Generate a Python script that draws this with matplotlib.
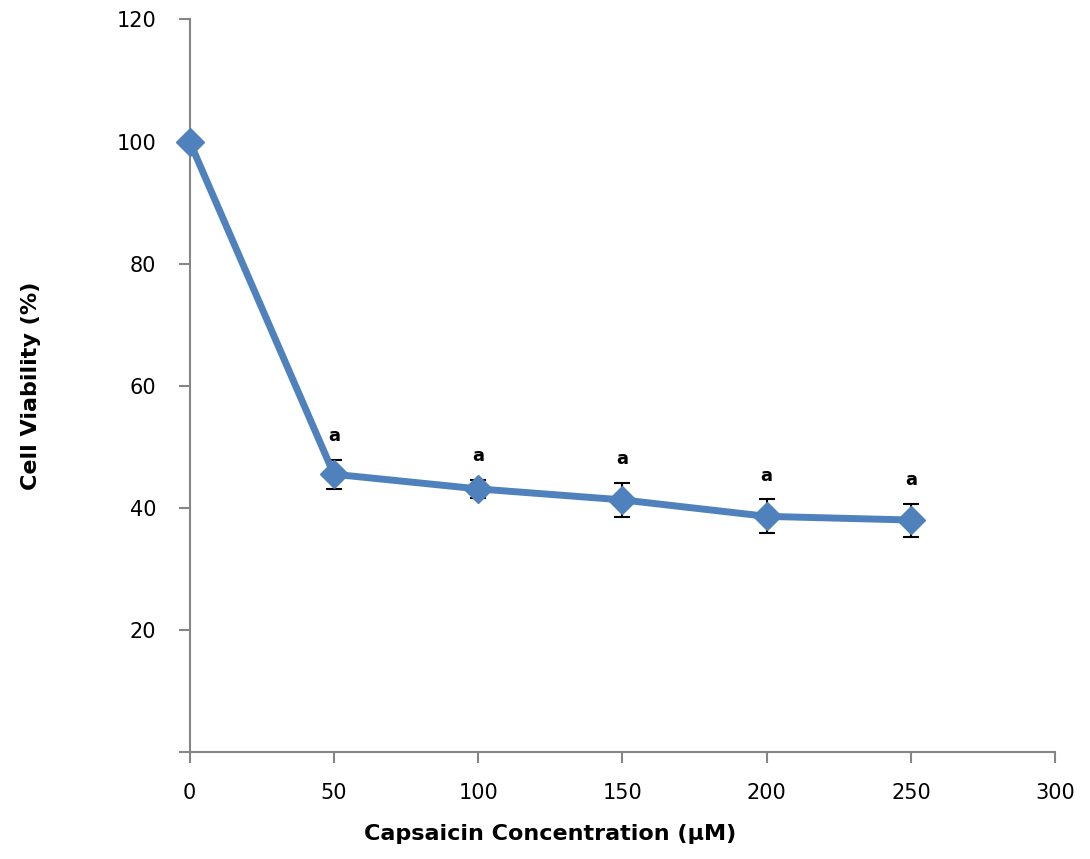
# Cell viability vs capsaicin concentration, line with error bars
import matplotlib.pyplot as plt

# data
concentration = [0, 50, 100, 150, 200, 250]
viability = [100, 45.5, 43.1, 41.3, 38.6, 38.0]
error = [0, 2.4, 1.5, 2.8, 2.8, 2.7]
significance = ['', 'a', 'a', 'a', 'a', 'a']

x_ticks = [0, 50, 100, 150, 200, 250, 300]
y_ticks = [0, 20, 40, 60, 80, 100, 120]
y_labels = ['', '20', '40', '60', '80', '100', '120']

blue = '#4F81BD'
grey = '#868686'

fig = plt.figure(figsize=(10.9, 8.59), dpi=100)
ax = fig.add_axes([0.174, 0.1246, 0.794, 0.8527])

# error bars (only for points with an error value)
ax.errorbar(concentration, viability, yerr=error, fmt='none', ecolor='black',
            elinewidth=1.5, capsize=5.8, capthick=1.5, zorder=2)
ax.plot(concentration, viability, color=blue, linewidth=5, marker='D',
        markersize=14, markeredgecolor=blue, zorder=3)

# significance letters above the error bars
for x, y, e, s in zip(concentration, viability, error, significance):
    if s:
        ax.annotate(s, (x, y + e), xytext=(0, 17), textcoords='offset points',
                    ha='center', va='center', fontsize=13, fontweight='bold')

ax.set_xlim(0, 300)
ax.set_ylim(0, 120)
ax.set_xticks(x_ticks)
ax.set_yticks(y_ticks)
ax.set_yticklabels(y_labels)

for side in ['top', 'right']:
    ax.spines[side].set_visible(False)
for side in ['left', 'bottom']:
    ax.spines[side].set_color(grey)
    ax.spines[side].set_linewidth(1.5)

ax.tick_params(axis='both', direction='out', length=8, width=1.5, color=grey,
               labelsize=15)
ax.tick_params(axis='y', pad=16)
ax.tick_params(axis='x', pad=14)
ax.set_xlabel('Capsaicin Concentration (µM)', fontsize=16, fontweight='bold')
ax.set_ylabel('Cell Viability (%)', fontsize=16, fontweight='bold')
ax.xaxis.set_label_coords(0.417, -0.098)
ax.yaxis.set_label_coords(-0.172, 0.5)
for artist in ax.get_children():
    artist.set_clip_on(False)

fig.savefig('out.png', dpi=100)
